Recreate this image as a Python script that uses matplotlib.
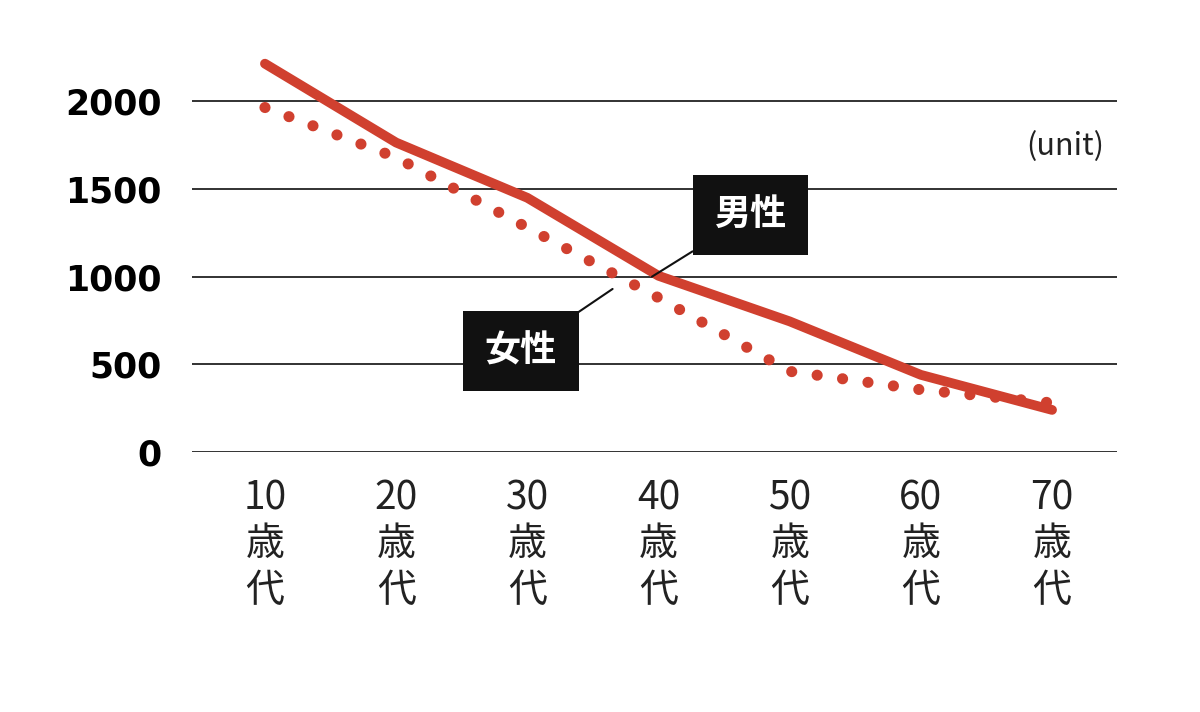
import matplotlib
matplotlib.use("Agg")
import matplotlib.pyplot as plt

plt.rcParams['font.family'] = ['Noto Sans CJK JP', 'DejaVu Sans']

ages = ["10", "20", "30", "40", "50", "60", "70"]
male = [2215, 1765, 1450, 1005, 745, 440, 240]
female = [1965, 1680, 1280, 880, 460, 355, 280]
yticks = [0, 500, 1000, 1500, 2000]

fig = plt.figure(figsize=(12, 7.12), dpi=100)
W, H = 1200, 712
ax = fig.add_axes([192/W, 1-452/H, (1117-192)/W, (452-40)/H])
x = list(range(len(ages)))
red = "#d0402f"
ax.plot(x, male, color=red, lw=7, solid_capstyle='round', clip_on=False, zorder=3)
ax.plot(x, female, color=red, lw=8, linestyle=(0, (0.01, 2.3)), dash_capstyle='round', clip_on=False, zorder=3)
ax.set_xlim(-0.556, 6.495)
ax.set_ylim(0, 2350)
for v in yticks:
    ax.axhline(v, color="#222222", lw=1.3, zorder=1)
for s in ax.spines.values():
    s.set_visible(False)
ax.set_xticks([])
ax.set_yticks(yticks)
ax.set_yticklabels([str(v) for v in yticks], fontsize=25, fontweight='bold', family='DejaVu Sans')
ax.tick_params(axis='y', length=0, pad=22)
for xi, a in zip(x, ages):
    ax.text(xi, -150, f"{a}\n歳\n代", ha='center', va='top', fontsize=28, linespacing=1.2, color="#222222")
ax.text(6.4, 1745, "(unit)", ha='right', va='center', fontsize=22, color="#222222")
ax.annotate("男性", xy=(2.95, 1000), xytext=(3.7, 1350), fontsize=26, fontweight='bold', color='white',
            ha='center', va='center',
            bbox=dict(boxstyle='square,pad=0.6', fc='#111111', ec='none'),
            arrowprops=dict(arrowstyle='-', color='#111111', lw=1.5, shrinkA=0, shrinkB=0), zorder=4)
ax.annotate("女性", xy=(2.65, 930), xytext=(1.95, 575), fontsize=26, fontweight='bold', color='white',
            ha='center', va='center',
            bbox=dict(boxstyle='square,pad=0.6', fc='#111111', ec='none'),
            arrowprops=dict(arrowstyle='-', color='#111111', lw=1.5, shrinkA=0, shrinkB=0), zorder=4)
fig.savefig("out.png", dpi=100)
